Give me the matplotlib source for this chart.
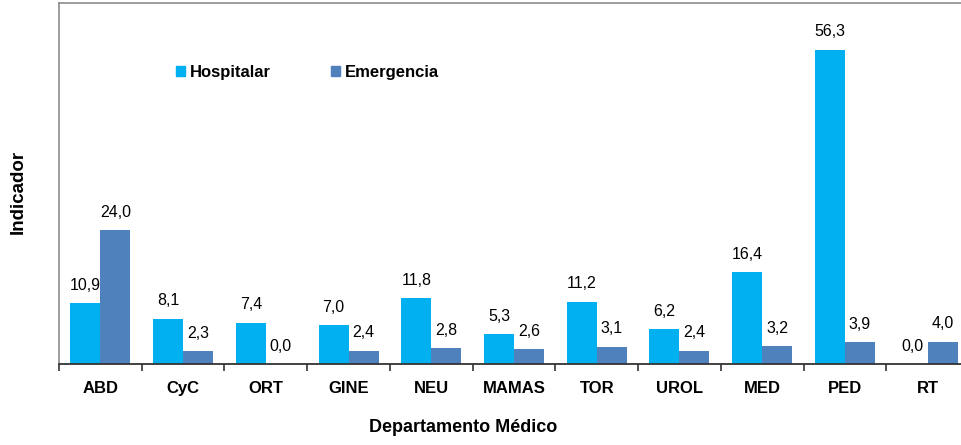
import matplotlib
matplotlib.use("Agg")
import matplotlib.pyplot as plt
from matplotlib.patches import Patch
import numpy as np

plt.rcParams['font.family'] = ['Liberation Sans', 'DejaVu Sans']

departamentos = ["ABD", "CyC", "ORT", "GINE", "NEU", "MAMAS", "TOR", "UROL", "MED", "PED", "RT"]
hospitalar = [10.9, 8.1, 7.4, 7.0, 11.8, 5.3, 11.2, 6.2, 16.4, 56.3, 0.0]
emergencia = [24.0, 2.3, 0.0, 2.4, 2.8, 2.6, 3.1, 2.4, 3.2, 3.9, 4.0]

color_hosp = "#00B0F0"
color_emer = "#4F81BD"

W, H = 961, 445
fig = plt.figure(figsize=(W / 100, H / 100), dpi=100)
# axes runs a bit past the right edge of the figure
ax = fig.add_axes([59 / W, (H - 364) / H, (969 - 59) / W, 361 / H])

x = np.arange(len(departamentos))
w = 0.363
b1 = ax.bar(x - w / 2, hospitalar, w, color=color_hosp, edgecolor="none")
b2 = ax.bar(x + w / 2, emergencia, w, color=color_emer, edgecolor="none")

for bars, vals in ((b1, hospitalar), (b2, emergencia)):
    for rect, v in zip(bars, vals):
        ax.annotate(f"{v:.1f}".replace(".", ","),
                    (rect.get_x() + rect.get_width() / 2, v),
                    xytext=(0, 7.5), textcoords="offset points",
                    ha="center", va="bottom", fontsize=11.5, color="black")

ax.set_xlim(-0.5, len(departamentos) - 0.5)
ax.set_ylim(0, 64.7)

ax.set_xticks(x)
ax.set_xticklabels(departamentos, fontsize=12, fontweight="bold")
ax.tick_params(axis="x", which="major", length=0, pad=12.5)
ax.set_xticks(np.arange(-0.5, len(departamentos)), minor=True)
ax.tick_params(axis="x", which="minor", length=5, width=1.2, color="#333333", direction="out")
ax.set_yticks([])

for side in ("left", "top", "right"):
    ax.spines[side].set_color("#8c8c8c")
    ax.spines[side].set_linewidth(1.2)
ax.spines["bottom"].set_color("#333333")
ax.spines["bottom"].set_linewidth(1.3)

fig.text(463 / W, 1 - 428 / H, "Departamento Médico", ha="center", va="center",
         fontsize=13, fontweight="bold")
fig.text(18 / W, 1 - 192 / H, "Indicador", ha="center", va="center",
         rotation=90, fontsize=13.5, fontweight="bold")

handles = [Patch(color=color_hosp, label="Hospitalar"),
           Patch(color=color_emer, label="Emergencia")]
fig.legend(handles=handles, loc="center left", bbox_to_anchor=(176 / W, 1 - 72 / H),
           ncol=2, frameon=False, handlelength=0.55, handleheight=0.55,
           handletextpad=0.3, columnspacing=3.6, borderpad=0, borderaxespad=0,
           prop={"size": 12, "weight": "bold"})

fig.savefig("out.png", dpi=100)
